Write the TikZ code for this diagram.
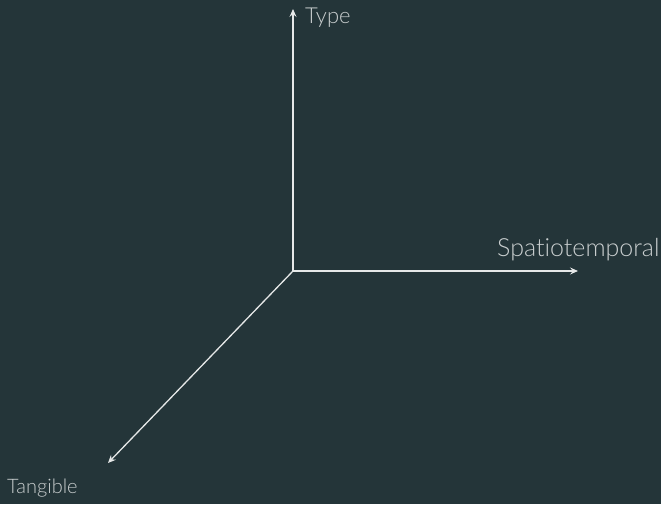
\documentclass[tikz,border=0pt]{standalone}
\usepackage{fontspec}
\setmainfont[Ligatures=NoCommon]{Lato Light}
\usetikzlibrary{arrows.meta}
\definecolor{bgdark}{HTML}{243539}
\definecolor{axisline}{HTML}{E6E8E8}
\definecolor{labeltext}{HTML}{C9CECF}
\tikzset{
  axis/.style={draw=axisline, line width=1.3pt,
    -{Stealth[length=8pt,width=7pt,inset=3pt]}},
  axislabel/.style={text=labeltext, font=\fontsize{22}{26}\selectfont, inner sep=0pt}
}
\begin{document}
\begin{tikzpicture}[x=1pt,y=-1pt]
  \fill[bgdark] (0,0) rectangle (661,504);
  \useasboundingbox (0,0) rectangle (661,504);
  \coordinate (o) at (293,271);
  \coordinate (up) at (293,9);
  \coordinate (right) at (578,271);
  \coordinate (diag) at (108,463);
  \draw[axis] (o) -- (up);
  \draw[axis] (o) -- (right);
  \draw[axis] (o) -- (diag);
  \node[axislabel, anchor=base west] (type) at (305,23) {Type};
  % \kern0pt keeps the t and i as separate glyphs
  \node[axislabel, anchor=base west, font=\fontsize{25}{30}\selectfont] (spat) at (497,256) {Spat\kern0pt iotemporal};
  \node[axislabel, anchor=base west, font=\fontsize{20}{24}\selectfont] (tang) at (7,493) {Tangible};
\end{tikzpicture}
\end{document}
